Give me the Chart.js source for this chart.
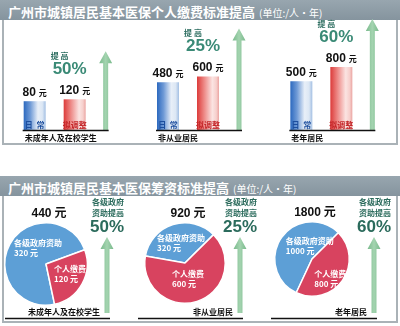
<!DOCTYPE html>
<html>
<head>
<meta charset="utf-8">
<script src="https://cdn.jsdelivr.net/npm/chart.js@4.4.1/dist/chart.umd.min.js"></script>
<style>
  body { margin: 0; width: 400px; height: 326px; overflow: hidden; position: relative; background: #fff; font-family: "Noto Sans CJK SC", sans-serif; }
  .band { position: absolute; left: 0; width: 392px; height: 20px; line-height: 20px; padding-left: 8px; background: linear-gradient(#98a6af, #85949e); color: #fff; white-space: nowrap; }
  .band b { font-size: 13px; }
  .band span { font-size: 10px; margin-left: 4px; }
  .panel { position: absolute; left: 2px; width: 392px; border: 2px solid #aab2b7; border-top: none; }
  .box { position: absolute; }
</style>
</head>
<body>
<div class="band" style="top:0"><b>广州市城镇居民基本医保个人缴费标准提高</b><span>(单位:/人·年)</span></div>
<div class="panel" style="top:20px;height:123px"></div>
<div class="band" style="top:176px"><b>广州市城镇居民基本医保筹资标准提高</b><span>(单位:/人·年)</span></div>
<div class="panel" style="top:196px;height:125px"></div>

<div class="box" style="left:-12px;top:14px;width:400px;height:130px">
  <canvas id="bars" width="400" height="130"></canvas>
</div>
<div class="box" style="left:0;top:196px"><canvas id="pie0" width="133" height="127"></canvas></div>
<div class="box" style="left:133px;top:196px"><canvas id="pie1" width="133" height="127"></canvas></div>
<div class="box" style="left:266px;top:196px"><canvas id="pie2" width="134" height="127"></canvas></div>

<script>
// data
const groups = ['未成年人及在校学生', '非从业居民', '老年居民'];
const current = [80, 480, 500];      // 日常
const adjusted = [120, 600, 800];    // 拟调整
const raisePct = [50, 25, 60];
const sliceNames = ['各级政府资助', '个人缴费'];
const gov = [320, 320, 1000];
const personal = [120, 600, 800];
const govRaisePct = [50, 25, 60];

const CJK = '"Noto Sans CJK SC", sans-serif';
const LAT = '"Liberation Sans", Arial, sans-serif';

function drawYuan(ctx, num, cx, y, numSize, yuanSize, color) {
  const s = String(num);
  ctx.font = `bold ${numSize}px ${LAT}`;
  const w1 = ctx.measureText(s).width;
  ctx.font = `bold ${yuanSize}px ${CJK}`;
  const w2 = ctx.measureText('元').width;
  const x = cx - (w1 + 3 + w2) / 2;
  ctx.fillStyle = color;
  ctx.textAlign = 'left';
  ctx.font = `bold ${numSize}px ${LAT}`;
  ctx.fillText(s, x, y);
  ctx.font = `bold ${yuanSize}px ${CJK}`;
  ctx.fillText('元', x + w1 + 3, y);
}

function arrow(ctx, x, top, bottom) {
  const g = ctx.createLinearGradient(x - 6, 0, x + 6, 0);
  g.addColorStop(0, '#7cbb8e');
  g.addColorStop(0.5, '#a4d4b0');
  g.addColorStop(1, '#7cbb8e');
  ctx.fillStyle = g;
  ctx.beginPath();
  ctx.moveTo(x, top);
  ctx.lineTo(x + 6.5, top + 12);
  ctx.lineTo(x + 2.5, top + 12);
  ctx.lineTo(x + 2.5, bottom);
  ctx.lineTo(x - 2.5, bottom);
  ctx.lineTo(x - 2.5, top + 12);
  ctx.lineTo(x - 6.5, top + 12);
  ctx.closePath();
  ctx.fill();
}

// cylinder-like horizontal shading for the bars
function shade(stops) {
  return (c) => {
    const chart = c.chart;
    const xs = chart.scales.x;
    if (!xs || !chart.chartArea || c.dataIndex === undefined) return stops[1][1];
    const slot = chart.chartArea.width / groups.length * 0.6 / 2;
    const cx = xs.getPixelForValue(c.dataIndex) + (c.datasetIndex - 0.5) * slot;
    const half = slot * 0.55 / 2;
    const g = chart.ctx.createLinearGradient(cx - half, 0, cx + half, 0);
    stops.forEach(([o, col]) => g.addColorStop(o, col));
    return g;
  };
}
const blueStops = [[0, '#2c69bf'], [0.3, '#6f9ad6'], [0.65, '#e8eff8'], [0.85, '#dce7f4'], [1, '#a3bfe3']];
const redStops = [[0, '#dc3b3a'], [0.3, '#ec8380'], [0.7, '#fbe4e2'], [0.88, '#f6cfcc'], [1, '#eba4a1']];

const barLabels = {
  id: 'barLabels',
  afterDatasetsDraw(chart) {
    const { ctx, chartArea, scales: { x } } = chart;
    const base = chartArea.bottom;
    ctx.save();
    groups.forEach((name, i) => {
      const cx = x.getPixelForValue(i);
      const blue = chart.getDatasetMeta(0).data[i];
      const red = chart.getDatasetMeta(1).data[i];

      drawYuan(ctx, current[i], blue.x, blue.y - 5, 12, 8, '#111');
      drawYuan(ctx, adjusted[i], red.x, red.y - 5, 12, 8, '#111');

      ctx.font = `bold 8px ${CJK}`;
      ctx.textAlign = 'center';
      ctx.fillStyle = '#1d4e9e';
      ctx.fillText('日  常', blue.x, base - 2);
      ctx.fillStyle = '#c4272a';
      ctx.fillText('拟调整', red.x, base - 2);

      const ax = cx + 51;
      arrow(ctx, ax, red.y - 48, base);

      ctx.textAlign = 'center';
      ctx.fillStyle = '#2f6f62';
      ctx.font = `bold 8px ${CJK}`;
      ctx.fillText('提 高', red.x - 15, red.y - 40);
      ctx.fillStyle = '#3a8a76';
      ctx.font = `bold 17px ${LAT}`;
      ctx.fillText(raisePct[i] + '%', red.x - 5, red.y - 25);

      ctx.strokeStyle = '#111';
      ctx.lineWidth = 1.5;
      ctx.beginPath();
      ctx.moveTo(cx - 32, base + 0.5);
      ctx.lineTo(ax + 3, base + 0.5);
      ctx.stroke();

      ctx.fillStyle = '#111';
      ctx.textAlign = 'left';
      ctx.font = `bold 8px ${CJK}`;
      ctx.fillText(name, cx - 30, base + 11);
    });
    ctx.restore();
  }
};

new Chart(document.getElementById('bars'), {
  type: 'bar',
  data: {
    labels: groups,
    datasets: [
      { label: '日常', data: current, base: -524, categoryPercentage: 0.6, barPercentage: 0.55, backgroundColor: shade(blueStops) },
      { label: '拟调整', data: adjusted, base: -524, categoryPercentage: 0.6, barPercentage: 0.55, backgroundColor: shade(redStops) }
    ]
  },
  options: {
    responsive: false,
    animation: false,
    layout: { padding: { top: 6, bottom: 14, left: 0, right: 0 } },
    plugins: { legend: { display: false }, tooltip: { enabled: false } },
    scales: {
      x: { display: false },
      y: { display: false, min: -524, max: 1784 }
    }
  },
  plugins: [barLabels]
});

// small shifts of the slice labels off the slice centroids, [gov, personal] per pie
const labelNudge = [
  [[10, -7], [6, -1]],
  [[2, -2], [-3, -4]],
  [[13, -3], [3, 8]]
];

const pieLabels = {
  id: 'pieLabels',
  afterDraw(chart, args, opts) {
    const i = opts.index;
    const ctx = chart.ctx;
    const arcs = chart.getDatasetMeta(0).data;
    const cx = arcs[0].x, cy = arcs[0].y, r = arcs[0].outerRadius;
    ctx.save();

    drawYuan(ctx, gov[i] + personal[i], cx + 3, cy - r - 6, 12, 12, '#111');

    [gov[i], personal[i]].forEach((v, k) => {
      const p = arcs[k].tooltipPosition();
      const [dx, dy] = labelNudge[i][k];
      ctx.font = `bold 8px ${CJK}`;
      ctx.fillStyle = '#fff';
      ctx.textAlign = 'left';
      const w = ctx.measureText(sliceNames[k]).width;
      ctx.fillText(sliceNames[k], p.x + dx - w / 2, p.y + dy - 1);
      ctx.fillText(v + ' 元', p.x + dx - w / 2, p.y + dy + 9);
    });

    const ax = chart.width - 26;
    const bottom = chart.height - 10;
    arrow(ctx, ax, 41, bottom);

    ctx.textAlign = 'center';
    ctx.fillStyle = '#2b6b5c';
    ctx.font = `bold 8px ${CJK}`;
    ctx.fillText('各级政府', ax + 1, 9);
    ctx.fillText('资助提高', ax + 1, 20);
    ctx.font = `bold 17px ${LAT}`;
    ctx.fillText(govRaisePct[i] + '%', ax, 36);

    ctx.strokeStyle = '#111';
    ctx.lineWidth = 1.5;
    ctx.beginPath();
    ctx.moveTo(5, chart.height - 4.5);
    ctx.lineTo(ax + 3, chart.height - 4.5);
    ctx.stroke();

    ctx.fillStyle = '#111';
    ctx.textAlign = 'right';
    ctx.font = `bold 8px ${CJK}`;
    ctx.fillText(groups[i], ax - 7, chart.height - 8);
    ctx.restore();
  }
};

const piePads = [
  { left: 4, right: 45, top: 26, bottom: 17 },
  { left: 11, right: 40, top: 26, bottom: 19 },
  { left: 8, right: 50, top: 25, bottom: 26 }
];
const pieRotation = [168, 280, 205];

groups.forEach((g, i) => {
  new Chart(document.getElementById('pie' + i), {
    type: 'pie',
    data: {
      labels: sliceNames,
      datasets: [{
        data: [gov[i], personal[i]],
        backgroundColor: ['#5d9fd6', '#d8435f'],
        borderColor: '#fff',
        borderWidth: 1.5
      }]
    },
    options: {
      responsive: false,
      animation: false,
      rotation: pieRotation[i],
      layout: { padding: piePads[i] },
      plugins: { legend: { display: false }, tooltip: { enabled: false }, pieLabels: { index: i } }
    },
    plugins: [pieLabels]
  });
});
</script>
</body>
</html>
